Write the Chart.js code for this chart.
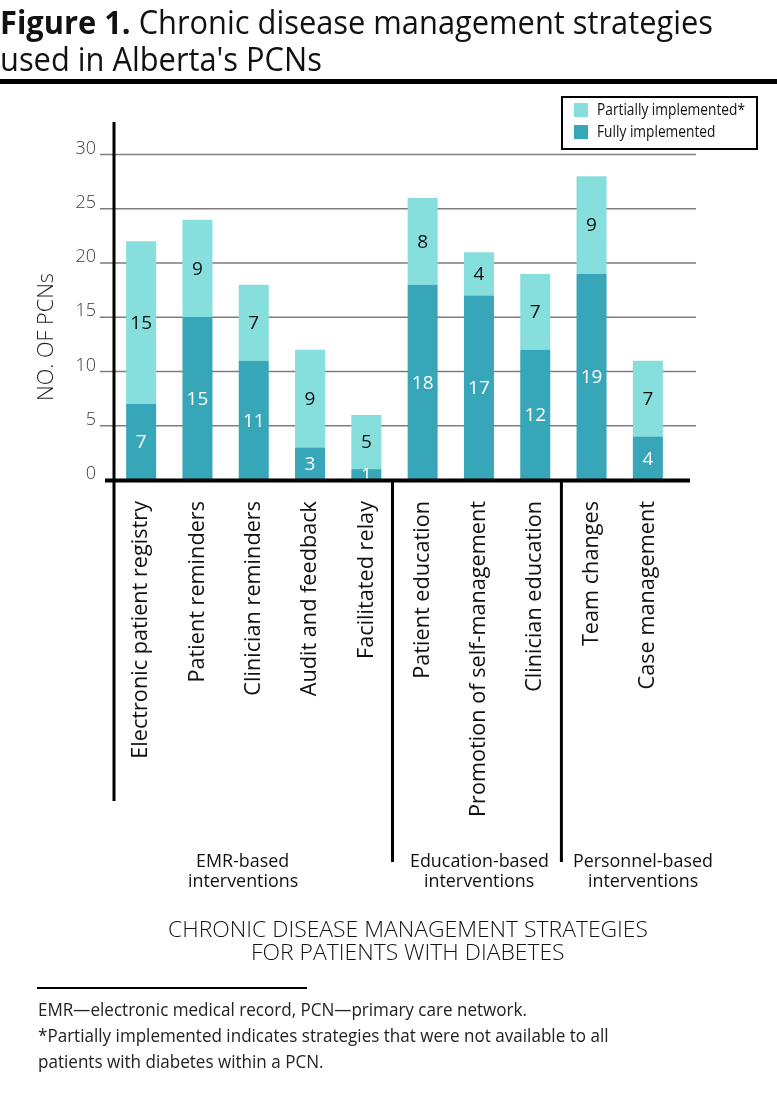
<!DOCTYPE html>
<html><head><meta charset="utf-8">
<script src="https://cdn.jsdelivr.net/npm/chart.js@4.4.1/dist/chart.umd.min.js"></script>
<style>
html,body{margin:0;padding:0;background:#fff;width:777px;height:1103px;overflow:hidden;position:relative;}
#c{position:absolute;left:0;top:0;}
.t{position:absolute;white-space:nowrap;line-height:1;margin:0;transform-origin:0 0;}
.rule{position:absolute;background:#000;}
</style></head><body>
<canvas id="c" width="777" height="1103"></canvas>
<script>
// ---------- data ----------
const categories = ['Electronic patient registry','Patient reminders','Clinician reminders','Audit and feedback','Facilitated relay','Patient education','Promotion of self-management','Clinician education','Team changes','Case management'];
const fullyImplemented = [7, 15, 11, 3, 1, 18, 17, 12, 19, 4];
const partiallyImplemented = [15, 9, 7, 9, 5, 8, 4, 7, 9, 7];
const yTickValues = [0, 5, 10, 15, 20, 25, 30];
const seriesNames = ['Fully implemented', 'Partially implemented*'];
const groupNames = [['EMR-based','interventions'], ['Education-based','interventions'], ['Personnel-based','interventions']];
const groupLastIndex = [4, 7, 9];
const yAxisTitle = 'NO. OF PCNs';
const xAxisTitle = ['CHRONIC DISEASE MANAGEMENT STRATEGIES', 'FOR PATIENTS WITH DIABETES'];
const footnotes = ['EMR\u2014electronic medical record, PCN\u2014primary care network.', '*Partially implemented indicates strategies that were not available to all', 'patients with diabetes within a PCN.'];

// ---------- styling ----------
const FONT = "'Open Sans', 'Noto Sans', sans-serif";
const DARK = '#37A6B8';
const LIGHT = '#87DFDD';
const mctx = document.createElement('canvas').getContext('2d');
function measure(t, size, wt) { mctx.font = `${wt} ${size}px ${FONT}`; return mctx.measureText(t).width; }
function addText(parts, o) {
  const el = document.createElement('div'); el.className = 't';
  let w = 0;
  parts.forEach(([t, wt]) => { const s = document.createElement('span'); s.textContent = t; s.style.fontWeight = wt; el.appendChild(s); w += measure(t, o.size, wt); });
  el.style.fontFamily = FONT; el.style.fontSize = o.size + 'px'; el.style.color = o.color || '#000';
  const sx = o.sx || (o.width ? o.width / w : 1);
  const dw = w * sx;
  el.style.left = (o.align === 'center' ? o.x - dw / 2 : o.x) + 'px';
  el.style.top = (o.baseline - 0.888 * o.size) + 'px';
  el.style.transform = `scaleX(${sx})`;
  document.body.appendChild(el);
  return sx;
}
function rule(x, y, w, h) { const d = document.createElement('div'); d.className = 'rule'; Object.assign(d.style, {left: x + 'px', top: y + 'px', width: w + 'px', height: h + 'px'}); document.body.appendChild(d); }

// title
const tsx = addText([['Figure 1.', 700], [' Chronic disease management strategies', 400]], {x: 0, baseline: 34, size: 33, width: 713, color: '#111'});
addText([["used in Alberta's PCNs", 400]], {x: 0, baseline: 71, size: 33, sx: tsx, color: '#111'});
rule(0, 79, 777, 5);
// axis title
const asx = addText([[xAxisTitle[0], 300]], {x: 408, align: 'center', baseline: 937, size: 22, width: 480, color: '#111'});
addText([[xAxisTitle[1], 300]], {x: 408, align: 'center', baseline: 960, size: 22, sx: asx, color: '#111'});
// footnotes
rule(37, 987, 270, 2);
const fsx = addText([[footnotes[0], 400]], {x: 38, baseline: 1016, size: 18, width: 489, color: '#222'});
addText([[footnotes[1], 400]], {x: 38, baseline: 1042, size: 18, sx: fsx, color: '#222'});
addText([[footnotes[2], 400]], {x: 38, baseline: 1068, size: 18, sx: fsx, color: '#222'});
// group labels
const groupCenters = [243, 479, 643];
const gsx = 139 / measure(groupNames[1][0], 19, 400);
groupNames.forEach((g, i) => {
  addText([[g[0], 400]], {x: groupCenters[i], align: 'center', baseline: 868, size: 19, sx: gsx, color: '#111'});
  addText([[g[1], 400]], {x: groupCenters[i], align: 'center', baseline: 888, size: 19, sx: gsx, color: '#111'});
});

const xLabelSize = 18 * 258 / measure(categories[0], 18, 400);

const decor = {
  id: 'decor',
  beforeDatasetsDraw(chart) {
    const ctx = chart.ctx, ys = chart.scales.y;
    ctx.save();
    ctx.strokeStyle = '#7d7d7d'; ctx.lineWidth = 1.5;
    yTickValues.filter(v => v > 0).forEach(v => {
      const y = ys.getPixelForValue(v);
      ctx.beginPath(); ctx.moveTo(100, y); ctx.lineTo(696, y); ctx.stroke();
    });
    ctx.restore();
  },
  afterDatasetsDraw(chart) {
    const ctx = chart.ctx, xs = chart.scales.x, ys = chart.scales.y, ca = chart.chartArea;
    ctx.save();
    // value labels
    ctx.font = `400 19px ${FONT}`; ctx.textAlign = 'center'; ctx.textBaseline = 'middle';
    chart.data.datasets.forEach((ds, di) => {
      const meta = chart.getDatasetMeta(di);
      ctx.fillStyle = di === 0 ? '#ffffff' : '#111111';
      meta.data.forEach((el, i) => {
        ctx.fillText(String(ds.data[i]), el.x, (el.y + el.base) / 2 + 1);
      });
    });
    // axes
    ctx.strokeStyle = '#000';
    const y0 = ys.getPixelForValue(0);
    ctx.lineWidth = 4;
    ctx.beginPath(); ctx.moveTo(105, y0 + 0.5); ctx.lineTo(690, y0 + 0.5); ctx.stroke();
    ctx.lineWidth = 3;
    ctx.beginPath(); ctx.moveTo(ca.left + 1, ca.top); ctx.lineTo(ca.left + 1, 801); ctx.stroke();
    groupLastIndex.slice(0, -1).forEach(i => {
      const bx = (xs.getPixelForValue(i) + xs.getPixelForValue(i + 1)) / 2 - 2;
      ctx.beginPath(); ctx.moveTo(bx, y0); ctx.lineTo(bx, 862); ctx.stroke();
    });
    ctx.restore();
  },
  afterDraw(chart) {
    const ctx = chart.ctx;
    ctx.save();
    // y axis title
    const ysz = 20 * 128 / measure(yAxisTitle, 20, 300);
    ctx.translate(47, 337); ctx.rotate(-Math.PI / 2);
    ctx.font = `300 ${ysz}px ${FONT}`; ctx.fillStyle = '#222'; ctx.textAlign = 'center'; ctx.textBaseline = 'middle';
    ctx.fillText(yAxisTitle, 0, 0);
    ctx.restore();
    // legend
    ctx.save();
    ctx.strokeStyle = '#000'; ctx.lineWidth = 2;
    ctx.strokeRect(562, 97, 195, 52);
    const items = [[seriesNames[1], LIGHT, 110], [seriesNames[0], DARK, 132]];
    const lsx = 148 / measure(seriesNames[1], 17, 400);
    items.forEach(([t, c, y]) => {
      ctx.fillStyle = c; ctx.fillRect(574, y - 7, 14, 14);
      ctx.save();
      ctx.translate(597, y); ctx.scale(lsx, 1);
      ctx.font = `400 17px ${FONT}`; ctx.fillStyle = '#111'; ctx.textAlign = 'left'; ctx.textBaseline = 'middle';
      ctx.fillText(t, 0, 0);
      ctx.restore();
    });
    ctx.restore();
  }
};

new Chart(document.getElementById('c'), {
  type: 'bar',
  data: {
    labels: categories,
    datasets: [
      {label: seriesNames[0], data: fullyImplemented, backgroundColor: DARK, borderWidth: 0},
      {label: seriesNames[1], data: partiallyImplemented, backgroundColor: LIGHT, borderWidth: 0}
    ]
  },
  options: {
    responsive: false, animation: false, devicePixelRatio: 1,
    layout: {padding: {top: 122, right: 101, bottom: 243, left: 0}},
    datasets: {bar: {barPercentage: 1, categoryPercentage: 0.533}},
    plugins: {legend: {display: false}, tooltip: {enabled: false}, title: {display: false}},
    scales: {
      x: {
        stacked: true,
        grid: {display: false, drawTicks: false},
        border: {display: false},
        ticks: {autoSkip: false, maxRotation: 90, minRotation: 90, padding: 21, color: '#111', font: {family: FONT, size: xLabelSize, weight: 400}},
        afterFit: s => { s.height = 380; }
      },
      y: {
        stacked: true, min: 0, max: 33,
        grid: {display: false, drawTicks: false},
        border: {display: false},
        ticks: {stepSize: 5, padding: 17, labelOffset: -6, color: '#3a3a3a', font: {family: FONT, size: 18, weight: 300}},
        afterBuildTicks: s => { s.ticks = yTickValues.map(v => ({value: v})); },
        afterFit: s => { s.width = 113; }
      }
    }
  },
  plugins: [decor]
});
</script>
</body></html>
